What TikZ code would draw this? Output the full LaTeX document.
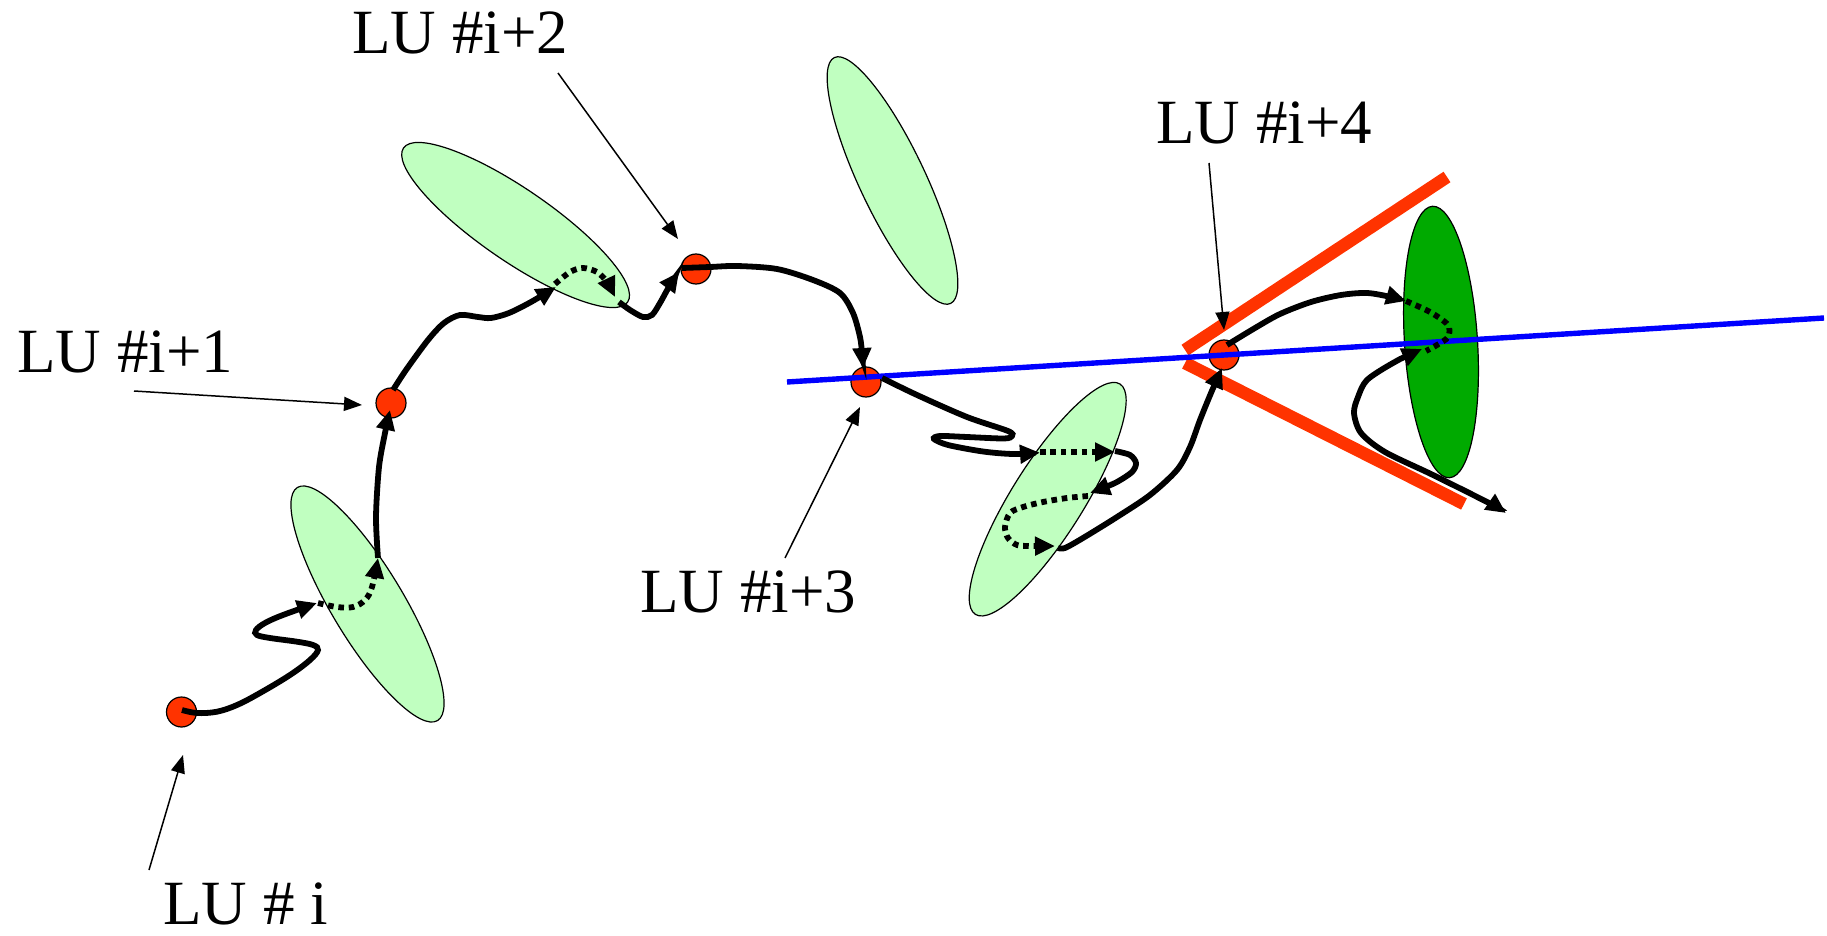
\documentclass[tikz,border=0pt]{standalone}
\usepackage{fontspec}
\setmainfont{Liberation Serif}
\usetikzlibrary{arrows.meta,shapes.geometric}
\definecolor{lgreen}{HTML}{C0FFC0}
\definecolor{dgreen}{HTML}{00AA00}
\definecolor{lured}{HTML}{FF3300}
\begin{document}
\begin{tikzpicture}[x=0.5pt,y=-0.5pt,
  blob/.style={ellipse,draw=black,line width=0.6pt,fill=lgreen,inner sep=0pt,minimum width=136pt,minimum height=36pt},
  dot/.style={circle,draw=black,line width=0.6pt,fill=lured,inner sep=0pt,minimum size=15pt},
  lbl/.style={anchor=base west,inner sep=0pt,font=\fontsize{31.5}{36}\selectfont},
  ptr/.style={line width=0.75pt,-{Triangle[length=9pt,width=7pt]}},
  walk/.style={line width=2.9pt,-{Triangle[length=10pt,width=9pt]}},
  hop/.style={walk,dash pattern=on 2.8pt off 2.4pt},
  dotline/.style={line width=2.9pt,dash pattern=on 2.8pt off 2.4pt},
  both/.style={line width=2.9pt,{Triangle[length=10pt,width=9pt]}-{Triangle[length=10pt,width=9pt]}},
  wall/.style={lured,line width=6.3pt},
  axis/.style={blue,line width=2.7pt},
]
\useasboundingbox (0,0) rectangle (1827,936);

% ellipses
\node[blob,rotate=-59] (e1) at (367.5,604) {};
\node[blob,rotate=-34.5] (e2) at (515.6,225) {};
\node[blob,rotate=-64.7,minimum height=33pt] (e3) at (892.5,180.5) {};
\node[blob,rotate=57.9] (e4) at (1047.7,499.2) {};
\node[blob,fill=dgreen,rotate=93.6,minimum height=36.5pt] (e5) at (1441,342) {};

% red walls
\coordinate (wa1) at (1185,350); \coordinate (wa2) at (1447,177);
\coordinate (wb1) at (1185,363); \coordinate (wb2) at (1464,504);
\draw[wall] (wa1) -- (wa2);
\draw[wall] (wb1) -- (wb2);

% dots
\node[dot] (d0) at (181.5,712) {};
\node[dot] (d1) at (391,403) {};
\node[dot] (d2) at (696,269) {};
\node[dot] (d3) at (866,382) {};
\node[dot] (d4) at (1224,355) {};

% blue axis
\coordinate (bl) at (787,382); \coordinate (br) at (1824,318);
\draw[axis] (bl) -- (br);

% walk
\draw[walk] plot[smooth,tension=0.6] coordinates {(182,710) (197,713) (217,711.7) (237,705) (260,693) (290,675) (310,660) (318,650) (313,645) (297,641.7) (270,638) (257,635) (256,630) (265,623) (283,615) (317,603)};
\draw[hop] plot[smooth,tension=0.6] coordinates {(318,603) (337,607) (353,607) (365,600) (372,587) (378,558)};
\draw[walk] plot[smooth] coordinates {(378,558) (376,517) (379,467) (385,433) (390,410)};
\draw[walk] plot[smooth] coordinates {(393,390) (406,370) (428,340) (444,323) (460,315) (478,317) (491,318) (509,313) (531,302) (556,287)};
\draw[hop] plot[smooth] coordinates {(555,284) (570,272) (583,268) (597,272) (607,282) (615,297)};
\draw[walk] plot[smooth] coordinates {(619,302) (630,310) (643,317) (652,315) (660,303) (670,285) (679,272)};
\draw[walk] plot[smooth] coordinates {(682,268) (710,267) (737,266) (777,269) (813,280) (840,293) (853,313) (860,337) (862,353) (863,368)};
\draw[walk] plot[smooth,tension=0.5] coordinates {(882,378) (917,395) (967,417) (1008,431) (1012,436) (1004,438.5) (967,437) (940,436) (934,439) (948,445) (983,451.5) (1013,454) (1040,452.7)};
\draw[hop] (1040,452) -- (1115,452);
\draw[walk] plot[smooth] coordinates {(1115,451) (1130,455) (1136,463) (1132,472) (1117,482) (1103,488) (1090,493)};
\draw[hop] plot[smooth] coordinates {(1088,496) (1067,498) (1043,502) (1023,507) (1010,513) (1005,527) (1008,538) (1017,545) (1030,546) (1055,546)};
\draw[walk] plot[smooth] coordinates {(1058,548) (1065,548) (1083,538) (1117,517) (1150,495) (1177,470) (1190,447) (1200,420) (1211,393) (1222,368)};
\draw[walk] plot[smooth] coordinates {(1227,345) (1255,328) (1280,314) (1311,302) (1341,295) (1367,293) (1391,297) (1406,301)};
\draw[dotline] plot[smooth] coordinates {(1406,301) (1430,312) (1448,325) (1448,337) (1437,345) (1426,351)};
\draw[both] plot[smooth] coordinates {(1422,349) (1393,363) (1367,380) (1358,397) (1354,413) (1361,433) (1385,452) (1433,475) (1489,503) (1506,513)};

% labels
\node[lbl] (l0) at (163,924) {LU \# i};
\node[lbl] (l1) at (17,372) {LU \#i+1};
\node[lbl] (l2) at (352,54) {LU \#i+2};
\node[lbl] (l3) at (640,612) {LU \#i+3};
\node[lbl] (l4) at (1156,144) {LU \#i+4};

% pointers
\coordinate (s0) at (149,870); \coordinate (t0) at (183,755);
\coordinate (s1) at (134,391); \coordinate (t1) at (362,405);
\coordinate (s2) at (558,73);  \coordinate (t2) at (678,239);
\coordinate (s3) at (785,558); \coordinate (t3) at (860,407);
\coordinate (s4) at (1209,163); \coordinate (t4) at (1224,330);
\draw[ptr] (s0) -- (t0);
\draw[ptr] (s1) -- (t1);
\draw[ptr] (s2) -- (t2);
\draw[ptr] (s3) -- (t3);
\draw[ptr] (s4) -- (t4);
\end{tikzpicture}
\end{document}
